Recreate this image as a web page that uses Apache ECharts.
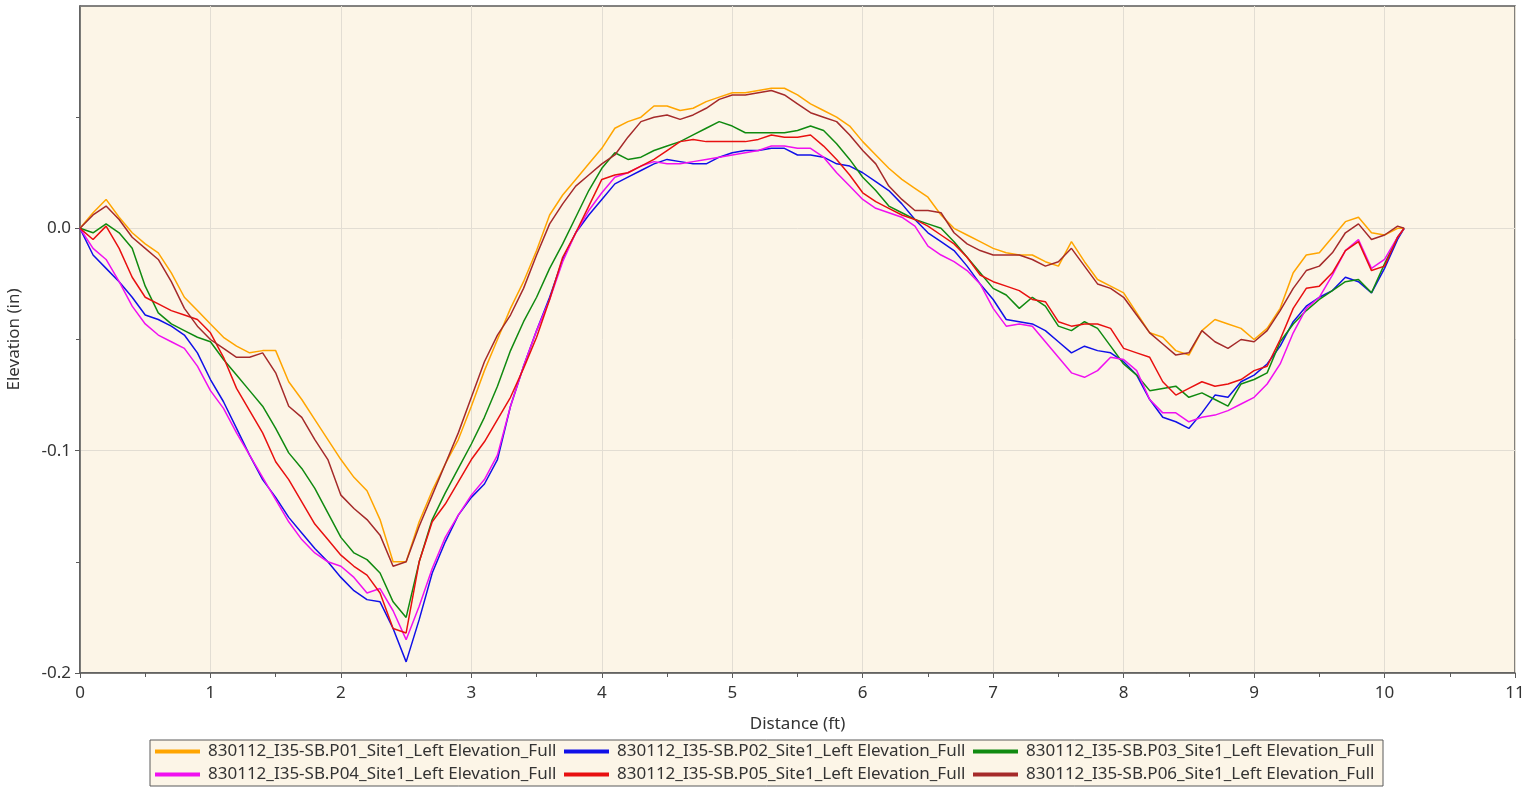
<!DOCTYPE html>
<html>
<head>
<meta charset="utf-8">
<title>Elevation profiles</title>
<script src="https://cdn.jsdelivr.net/npm/echarts@6/dist/echarts.min.js"></script>
<style>
  html, body { margin: 0; padding: 0; background: #fff; }
  #main { width: 1526px; height: 788px; }
</style>
</head>
<body>
<div id="main"></div>
<script>
// distance along the profile (ft)
var distance = [
  0.0, 0.1, 0.2, 0.3, 0.4, 0.5, 0.6, 0.7, 0.8, 0.9,
  1.0, 1.1, 1.2, 1.3, 1.4, 1.5, 1.6, 1.7, 1.8, 1.9,
  2.0, 2.1, 2.2, 2.3, 2.4, 2.5, 2.6, 2.7, 2.8, 2.9,
  3.0, 3.1, 3.2, 3.3, 3.4, 3.5, 3.6, 3.7, 3.8, 3.9,
  4.0, 4.1, 4.2, 4.3, 4.4, 4.5, 4.6, 4.7, 4.8, 4.9,
  5.0, 5.1, 5.2, 5.3, 5.4, 5.5, 5.6, 5.7, 5.8, 5.9,
  6.0, 6.1, 6.2, 6.3, 6.4, 6.5, 6.6, 6.7, 6.8, 6.9,
  7.0, 7.1, 7.2, 7.3, 7.4, 7.5, 7.6, 7.7, 7.8, 7.9,
  8.0, 8.1, 8.2, 8.3, 8.4, 8.5, 8.6, 8.7, 8.8, 8.9,
  9.0, 9.1, 9.2, 9.3, 9.4, 9.5, 9.6, 9.7, 9.8, 9.9,
  10.0, 10.1, 10.15
];

// elevation (in), one list per pass
var p01 = [
  0, 0.007, 0.013, 0.005, -0.002, -0.007, -0.011, -0.020, -0.031, -0.037,
  -0.043, -0.049, -0.053, -0.056, -0.055, -0.055, -0.069, -0.077, -0.086, -0.095,
  -0.104, -0.112, -0.118, -0.131, -0.150, -0.150, -0.132, -0.118, -0.106, -0.095,
  -0.080, -0.064, -0.050, -0.036, -0.024, -0.010, 0.006, 0.015, 0.022, 0.029,
  0.036, 0.045, 0.048, 0.050, 0.055, 0.055, 0.053, 0.054, 0.057, 0.059,
  0.061, 0.061, 0.062, 0.063, 0.063, 0.060, 0.056, 0.053, 0.050, 0.046,
  0.039, 0.033, 0.027, 0.022, 0.018, 0.014, 0.006, 0.000, -0.003, -0.006,
  -0.009, -0.011, -0.012, -0.012, -0.015, -0.017, -0.006, -0.015, -0.023, -0.026,
  -0.029, -0.038, -0.047, -0.049, -0.055, -0.057, -0.046, -0.041, -0.043, -0.045,
  -0.050, -0.045, -0.036, -0.020, -0.012, -0.011, -0.004, 0.003, 0.005, -0.002,
  -0.003, 0.000, 0
];
var p02 = [
  0, -0.012, -0.018, -0.024, -0.031, -0.039, -0.041, -0.044, -0.048, -0.056,
  -0.068, -0.078, -0.090, -0.102, -0.113, -0.121, -0.130, -0.137, -0.144, -0.150,
  -0.157, -0.163, -0.167, -0.168, -0.180, -0.195, -0.176, -0.155, -0.141, -0.129,
  -0.121, -0.115, -0.104, -0.080, -0.062, -0.046, -0.031, -0.014, -0.002, 0.006,
  0.013, 0.020, 0.023, 0.026, 0.029, 0.031, 0.030, 0.029, 0.029, 0.032,
  0.034, 0.035, 0.035, 0.036, 0.036, 0.033, 0.033, 0.032, 0.029, 0.028,
  0.025, 0.021, 0.017, 0.011, 0.004, -0.002, -0.006, -0.010, -0.017, -0.025,
  -0.032, -0.041, -0.042, -0.043, -0.046, -0.051, -0.056, -0.053, -0.055, -0.056,
  -0.060, -0.066, -0.077, -0.085, -0.087, -0.090, -0.083, -0.075, -0.076, -0.069,
  -0.066, -0.061, -0.053, -0.042, -0.035, -0.031, -0.028, -0.022, -0.024, -0.029,
  -0.018, -0.005, 0
];
var p03 = [
  0, -0.002, 0.002, -0.002, -0.009, -0.026, -0.038, -0.043, -0.046, -0.049,
  -0.051, -0.059, -0.066, -0.073, -0.080, -0.090, -0.101, -0.108, -0.117, -0.128,
  -0.139, -0.146, -0.149, -0.155, -0.168, -0.175, -0.150, -0.131, -0.119, -0.108,
  -0.097, -0.085, -0.071, -0.055, -0.042, -0.031, -0.018, -0.007, 0.005, 0.017,
  0.027, 0.034, 0.031, 0.032, 0.035, 0.037, 0.039, 0.042, 0.045, 0.048,
  0.046, 0.043, 0.043, 0.043, 0.043, 0.044, 0.046, 0.044, 0.038, 0.031,
  0.023, 0.017, 0.010, 0.007, 0.004, 0.002, 0.000, -0.006, -0.013, -0.020,
  -0.027, -0.030, -0.036, -0.031, -0.035, -0.044, -0.046, -0.042, -0.045, -0.053,
  -0.061, -0.066, -0.073, -0.072, -0.071, -0.076, -0.074, -0.077, -0.080, -0.070,
  -0.068, -0.065, -0.051, -0.043, -0.037, -0.032, -0.028, -0.024, -0.023, -0.029,
  -0.016, -0.004, 0
];
var p04 = [
  0, -0.009, -0.014, -0.024, -0.035, -0.043, -0.048, -0.051, -0.054, -0.062,
  -0.073, -0.081, -0.092, -0.102, -0.112, -0.122, -0.132, -0.140, -0.146, -0.150,
  -0.152, -0.157, -0.164, -0.162, -0.172, -0.185, -0.170, -0.153, -0.139, -0.129,
  -0.120, -0.113, -0.102, -0.080, -0.062, -0.046, -0.032, -0.015, -0.002, 0.008,
  0.016, 0.023, 0.025, 0.028, 0.030, 0.029, 0.029, 0.030, 0.031, 0.032,
  0.033, 0.034, 0.035, 0.037, 0.037, 0.036, 0.036, 0.032, 0.025, 0.019,
  0.013, 0.009, 0.007, 0.005, 0.001, -0.008, -0.012, -0.015, -0.019, -0.025,
  -0.036, -0.044, -0.043, -0.044, -0.051, -0.058, -0.065, -0.067, -0.064, -0.058,
  -0.059, -0.064, -0.077, -0.083, -0.083, -0.087, -0.085, -0.084, -0.082, -0.079,
  -0.076, -0.070, -0.061, -0.047, -0.036, -0.031, -0.021, -0.010, -0.005, -0.018,
  -0.014, -0.004, 0
];
var p05 = [
  0, -0.005, 0.001, -0.009, -0.022, -0.031, -0.034, -0.037, -0.039, -0.041,
  -0.047, -0.058, -0.072, -0.082, -0.092, -0.105, -0.113, -0.123, -0.133, -0.140,
  -0.147, -0.152, -0.156, -0.164, -0.180, -0.182, -0.150, -0.132, -0.124, -0.114,
  -0.104, -0.096, -0.086, -0.076, -0.063, -0.049, -0.032, -0.013, -0.002, 0.010,
  0.022, 0.024, 0.025, 0.028, 0.031, 0.035, 0.039, 0.040, 0.039, 0.039,
  0.039, 0.039, 0.040, 0.042, 0.041, 0.041, 0.042, 0.037, 0.031, 0.024,
  0.016, 0.012, 0.009, 0.006, 0.004, 0.001, -0.003, -0.007, -0.013, -0.021,
  -0.024, -0.026, -0.028, -0.032, -0.033, -0.042, -0.044, -0.043, -0.043, -0.045,
  -0.054, -0.056, -0.058, -0.069, -0.075, -0.072, -0.069, -0.071, -0.070, -0.068,
  -0.064, -0.062, -0.050, -0.036, -0.027, -0.026, -0.020, -0.010, -0.006, -0.019,
  -0.017, -0.004, 0
];
var p06 = [
  0, 0.006, 0.010, 0.004, -0.004, -0.009, -0.014, -0.024, -0.036, -0.044,
  -0.050, -0.054, -0.058, -0.058, -0.056, -0.065, -0.080, -0.085, -0.095, -0.104,
  -0.120, -0.126, -0.131, -0.138, -0.152, -0.150, -0.134, -0.120, -0.106, -0.092,
  -0.076, -0.060, -0.048, -0.039, -0.027, -0.012, 0.002, 0.011, 0.019, 0.024,
  0.029, 0.033, 0.041, 0.048, 0.050, 0.051, 0.049, 0.051, 0.054, 0.058,
  0.060, 0.060, 0.061, 0.062, 0.060, 0.056, 0.052, 0.050, 0.048, 0.042,
  0.035, 0.029, 0.019, 0.013, 0.008, 0.008, 0.007, -0.002, -0.007, -0.010,
  -0.012, -0.012, -0.012, -0.014, -0.017, -0.015, -0.009, -0.017, -0.025, -0.027,
  -0.031, -0.039, -0.047, -0.052, -0.057, -0.056, -0.046, -0.051, -0.054, -0.050,
  -0.051, -0.046, -0.037, -0.027, -0.019, -0.017, -0.011, -0.002, 0.002, -0.005,
  -0.003, 0.001, 0
];

var seriesNames = [
  '830112_I35-SB.P01_Site1_Left Elevation_Full',
  '830112_I35-SB.P02_Site1_Left Elevation_Full',
  '830112_I35-SB.P03_Site1_Left Elevation_Full',
  '830112_I35-SB.P04_Site1_Left Elevation_Full',
  '830112_I35-SB.P05_Site1_Left Elevation_Full',
  '830112_I35-SB.P06_Site1_Left Elevation_Full'
];
var seriesValues = [p01, p02, p03, p04, p05, p06];
var seriesColors = ['#FFA500', '#1010E8', '#108A10', '#F010F0', '#E81010', '#A52A2A'];
var yTicks = [-0.2, -0.1, 0];

var myChart = echarts.init(document.getElementById('main'));

var font = 'Noto Sans';
var series = seriesNames.map(function (name, i) {
  return {
    name: name,
    type: 'line',
    showSymbol: false,
    symbol: 'none',
    sampling: null,
    lineStyle: { width: 1.5, color: seriesColors[i] },
    itemStyle: { color: seriesColors[i] },
    data: distance.map(function (d, k) { return [d, seriesValues[i][k]]; })
  };
});

var option = {
  animation: false,
  backgroundColor: '#ffffff',
  textStyle: { fontFamily: font },
  grid: {
    left: 80,
    right: 11,
    top: 6,
    bottom: 115,
    outerBoundsMode: 'none',
    show: true,
    backgroundColor: '#FCF5E7',
    borderColor: '#5a5a5a',
    borderWidth: 1.5
  },
  legend: {
    data: seriesNames,
    left: 150,
    top: 740,
    width: 1232,
    padding: [2, 5, 2, 5],
    itemGap: 4,
    itemWidth: 45,
    itemHeight: 4,
    icon: 'rect',
    backgroundColor: '#FCF5E7',
    borderColor: '#5a5a5a',
    borderWidth: 1,
    borderRadius: 0,
    textStyle: {
      fontFamily: font,
      fontSize: 17,
      color: '#333',
      width: 352,
      lineHeight: 19,
      padding: [0, 0, 0, 3],
      overflow: 'none'
    }
  },
  xAxis: {
    type: 'value',
    min: 0,
    max: 11,
    interval: 1,
    name: 'Distance (ft)',
    nameLocation: 'middle',
    nameGap: 43,
    nameTextStyle: { fontFamily: font, fontSize: 17, color: '#333' },
    axisLine: { show: true, onZero: false, lineStyle: { color: '#5a5a5a', width: 1.5 } },
    axisTick: { show: true, length: 5, lineStyle: { color: '#5a5a5a' } },
    minorTick: { show: true, splitNumber: 2, length: 4, lineStyle: { color: '#5a5a5a' } },
    axisLabel: { fontFamily: font, fontSize: 17, color: '#333', margin: 12 },
    splitLine: { show: true, lineStyle: { color: '#E2DDD3', width: 1 } }
  },
  yAxis: {
    type: 'value',
    min: -0.2,
    max: 0.1,
    interval: 0.1,
    name: 'Elevation (in)',
    nameLocation: 'middle',
    nameGap: 57,
    nameRotate: 90,
    nameTextStyle: { fontFamily: font, fontSize: 17, color: '#333' },
    axisLine: { show: true, lineStyle: { color: '#5a5a5a', width: 1.5 } },
    axisTick: { show: true, length: 5, customValues: yTicks, lineStyle: { color: '#5a5a5a' } },
    minorTick: { show: true, splitNumber: 2, length: 4, lineStyle: { color: '#5a5a5a' } },
    axisLabel: {
      fontFamily: font,
      fontSize: 17,
      color: '#333',
      margin: 9,
      customValues: yTicks,
      formatter: function (v) {
        if (Math.abs(v) < 1e-9) return '0.0';
        return v.toFixed(1);
      }
    },
    splitLine: { show: true, lineStyle: { color: '#E2DDD3', width: 1 } }
  },
  series: series
};

myChart.setOption(option);
</script>
</body>
</html>
